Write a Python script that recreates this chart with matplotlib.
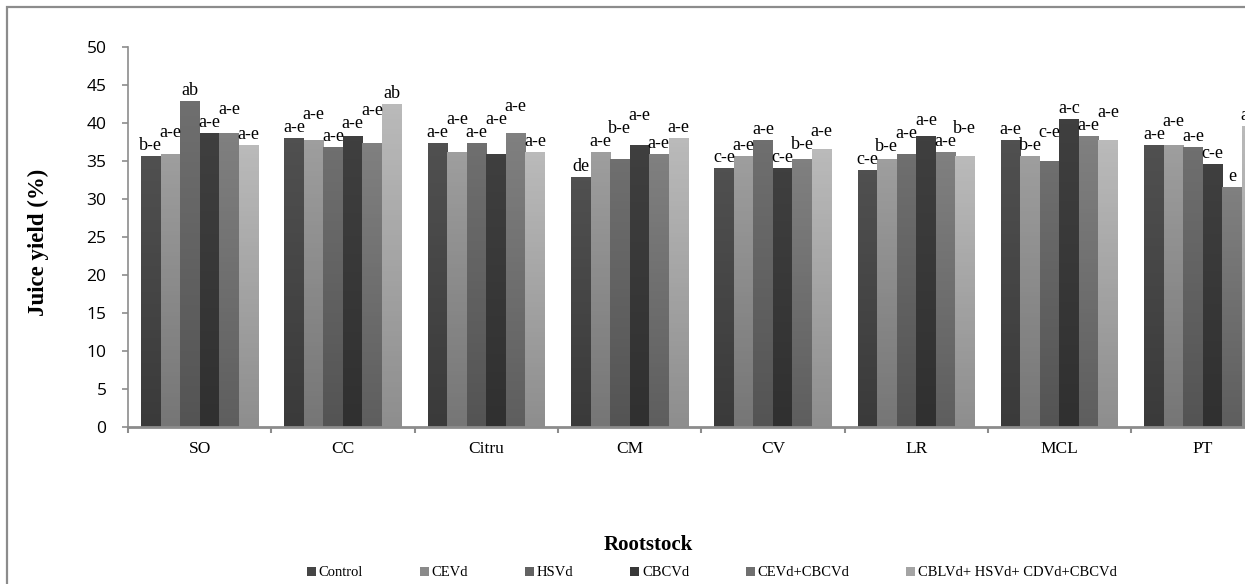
import numpy as np
import matplotlib
matplotlib.use("Agg")
import matplotlib.pyplot as plt
from matplotlib.colors import LinearSegmentedColormap
from matplotlib.patches import Rectangle

# datos
rootstocks = ["SO", "CC", "Citru", "CM", "CV", "LR", "MCL", "PT"]
series = ["Control", "CEVd", "HSVd", "CBCVd", "CEVd+CBCVd", "CBLVd+ HSVd+ CDVd+CBCVd"]

control = [35.6, 37.9, 37.3, 32.8, 34.0, 33.7, 37.7, 37.0]
cevd = [35.8, 37.7, 36.1, 36.1, 35.6, 35.2, 35.6, 37.0]
hsvd = [42.8, 36.8, 37.3, 35.2, 37.7, 35.8, 34.9, 36.8]
cbcvd = [38.6, 38.2, 35.8, 37.0, 34.0, 38.2, 40.4, 34.6]
cevd_cbcvd = [38.6, 37.3, 38.6, 35.8, 35.2, 36.1, 38.2, 31.5]
mix = [37.1, 42.5, 36.1, 37.9, 36.5, 35.6, 37.7, 39.5]

lab_control = ["b-e", "a-e", "a-e", "de", "c-e", "c-e", "a-e", "a-e"]
lab_cevd = ["a-e", "a-e", "a-e", "a-e", "a-e", "b-e", "b-e", "a-e"]
lab_hsvd = ["ab", "a-e", "a-e", "b-e", "a-e", "a-e", "c-e", "a-e"]
lab_cbcvd = ["a-e", "a-e", "a-e", "a-e", "c-e", "a-e", "a-c", "c-e"]
lab_cevd_cbcvd = ["a-e", "a-e", "a-e", "a-e", "b-e", "a-e", "a-e", "e"]
lab_mix = ["a-e", "ab", "a-e", "a-e", "a-e", "b-e", "a-e", "a-e"]

valores = [control, cevd, hsvd, cbcvd, cevd_cbcvd, mix]
letras = [lab_control, lab_cevd, lab_hsvd, lab_cbcvd, lab_cevd_cbcvd, lab_mix]

# colores (arriba, abajo) del degradado de cada serie
colores = [("#505050", "#3a3a3a"), ("#9e9e9e", "#767676"), ("#6f6f6f", "#545454"),
           ("#3f3f3f", "#303030"), ("#808080", "#5e5e5e"), ("#bababa", "#8e8e8e")]

W, H = 1245, 584
fig = plt.figure(figsize=(W / 100, H / 100), dpi=100)

# marco del area del grafico (sale por la derecha y por abajo)
fig.patches.append(Rectangle((6.5 / W, -0.05), 1.2, 1 - 6.5 / H + 0.05, transform=fig.transFigure,
                             fill=False, edgecolor="#8c8c8c", linewidth=1.6))

x_left, x_right = 128, 128 + 8 * 143.3
y_bot, y_top = 427, 47
ax = fig.add_axes([x_left / W, 1 - y_bot / H, (x_right - x_left) / W, (y_bot - y_top) / H])

n = len(series)
ancho = 0.136
x = np.arange(len(rootstocks))

px_x = (x_right - x_left) / len(rootstocks)
px_y = (y_bot - y_top) / 50.0

for j in range(n):
    pos = x + (j - (n - 1) / 2) * ancho
    bars = ax.bar(pos, valores[j], width=ancho, color="none", edgecolor="none", label=series[j])
    cmap = LinearSegmentedColormap.from_list("g%d" % j, [colores[j][1], colores[j][0]])
    for b in bars:
        x0, w, h = b.get_x(), b.get_width(), b.get_height()
        ax.imshow(np.linspace(0, 1, 64).reshape(-1, 1), extent=(x0, x0 + w, 0, h),
                  origin="lower", cmap=cmap, aspect="auto", zorder=2)

# etiquetas de letras, evitando solapamientos
for g in range(len(rootstocks)):
    puestas = []
    for j in range(n):
        xc = g + (j - (n - 1) / 2) * ancho
        txt = letras[j][g]
        wpx = 8 * len(txt)
        ypx = valores[j][g] * px_y + 11
        moved = True
        while moved:
            moved = False
            for (xp, yp, wp) in puestas:
                if abs(xc - xp) * px_x < (wpx + wp) / 2 - 2 and abs(ypx - yp) < 12:
                    ypx = yp + 13
                    moved = True
        puestas.append((xc, ypx, wpx))
        ax.text(xc, ypx / px_y, txt, ha="center", va="center", fontsize=13,
                family="Liberation Serif", color="black", zorder=3)

ax.set_xlim(-0.5, len(rootstocks) - 0.5)
ax.set_ylim(0, 50)
ax.set_yticks(np.arange(0, 51, 5))
ax.set_xticks(np.arange(-0.5, len(rootstocks), 1.0))
ax.set_xticklabels([])
ax.set_xticks(x, minor=True)
ax.set_xticklabels(rootstocks, minor=True, family="Liberation Serif", fontsize=12.5)
ax.tick_params(axis="x", which="minor", length=0, pad=10)
ax.tick_params(axis="x", which="major", length=4, width=1.5, color="#8c8c8c", direction="out")
ax.tick_params(axis="y", length=4.5, width=1.2, color="#8c8c8c", direction="out", pad=11,
               labelsize=12.5)
for t in ax.get_yticklabels():
    t.set_family("Open Sans")

for s in ["top", "right"]:
    ax.spines[s].set_visible(False)
ax.spines["left"].set_color("#8c8c8c")
ax.spines["left"].set_linewidth(1.2)
ax.spines["bottom"].set_color("#8c8c8c")
ax.spines["bottom"].set_linewidth(2)
ax.spines["bottom"].set_zorder(4)

fig.text(38 / W, 1 - 242 / H, "Juice yield (%)", rotation=90, ha="center", va="center",
         family="Liberation Serif", fontweight="bold", fontsize=16.5)
fig.text(648 / W, 1 - 545 / H, "Rootstock", ha="center", va="center",
         family="Liberation Serif", fontweight="bold", fontsize=15)

mid = [matplotlib.colors.to_hex(np.mean([matplotlib.colors.to_rgb(c[0]),
                                          matplotlib.colors.to_rgb(c[1])], axis=0)) for c in colores]
handles = [Rectangle((0, 0), 1, 1, facecolor=mid[j], edgecolor="none") for j in range(n)]
fig.legend(handles, series, loc="center", bbox_to_anchor=(712 / W, 1 - 573 / H), ncol=n,
           frameon=False, prop={"family": "Liberation Serif", "size": 10.5},
           handlelength=0.6, handleheight=0.6, handletextpad=0.2, columnspacing=3.9,
           borderpad=0)

fig.savefig("out.png", dpi=100)
